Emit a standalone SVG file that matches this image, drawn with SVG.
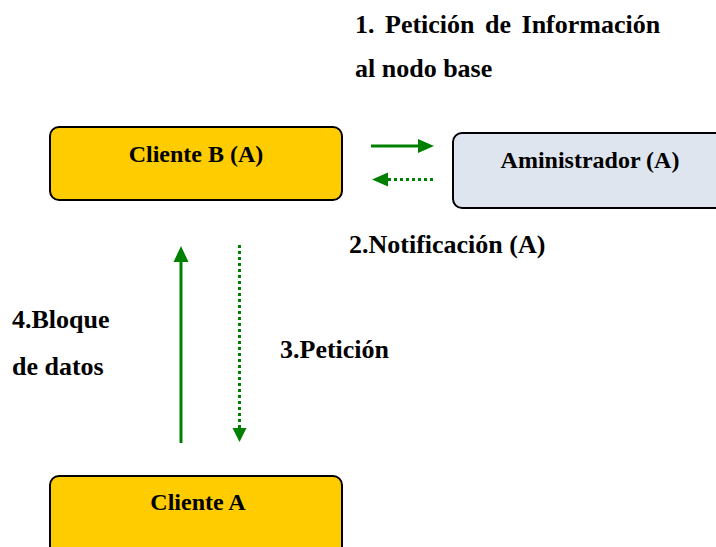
<svg xmlns="http://www.w3.org/2000/svg" width="716" height="547" viewBox="0 0 716 547" font-family="'Liberation Serif', 'DejaVu Serif', 'Times New Roman', serif">
  <style>
    text { font-family: "Liberation Serif", "DejaVu Serif", "Times New Roman", serif; font-weight: 700; fill: #000; }
    .node { stroke: #000; stroke-width: 2; }
    .yellow { fill: #FFCC00; }
    .grey { fill: #DEE5EE; }
    .nlabel { font-size: 24px; text-anchor: middle; }
    .label { font-size: 26px; }
    .conn { stroke: #008000; stroke-width: 3; fill: none; }
    .dotted { stroke-dasharray: 3 3; }
    .head { fill: #008000; }
  </style>

  <rect width="716" height="547" fill="#FFFFFF"/>

  <!-- step labels -->
  <g id="labels">
    <text class="label" x="355" y="33" word-spacing="4">1. Petición de Información</text>
    <text class="label" x="355" y="77">al nodo base</text>
    <text class="label" x="349" y="253">2.Notificación (A)</text>
    <text class="label" x="12" y="328">4.Bloque</text>
    <text class="label" x="12" y="375">de datos</text>
    <text class="label" x="280" y="358">3.Petición</text>
  </g>

  <g id="cliente-b">
    <rect class="node yellow" x="50" y="127" width="292" height="73" rx="9"/>
    <text class="nlabel" x="196" y="162">Cliente B (A)</text>
  </g>

  <g id="administrador">
    <rect class="node grey" x="453" y="133" width="280" height="75" rx="9"/>
    <text class="nlabel" x="590" y="168">Aministrador (A)</text>
  </g>

  <g id="cliente-a">
    <rect class="node yellow" x="50" y="476" width="292" height="90" rx="9"/>
    <text class="nlabel" x="198" y="510">Cliente A</text>
  </g>

  <g id="connectors">
    <!-- 1: Cliente B to Administrador -->
    <line class="conn" x1="371" y1="146" x2="420" y2="146"/>
    <polygon class="head" points="434,146 418,139 418,153"/>
    <!-- 2: Administrador to Cliente B (dotted) -->
    <line class="conn dotted" x1="433" y1="179.5" x2="388" y2="179.5"/>
    <polygon class="head" points="372,179.5 388,172.5 388,186.5"/>
    <!-- 3: Cliente B to Cliente A (dotted) -->
    <line class="conn dotted" x1="239.5" y1="245" x2="239.5" y2="429"/>
    <polygon class="head" points="239.5,442 232.5,428 246.5,428"/>
    <!-- 4: Cliente A to Cliente B -->
    <line class="conn" x1="181" y1="443" x2="181" y2="260"/>
    <polygon class="head" points="181,246 173.5,262 188.5,262"/>
  </g>
</svg>
